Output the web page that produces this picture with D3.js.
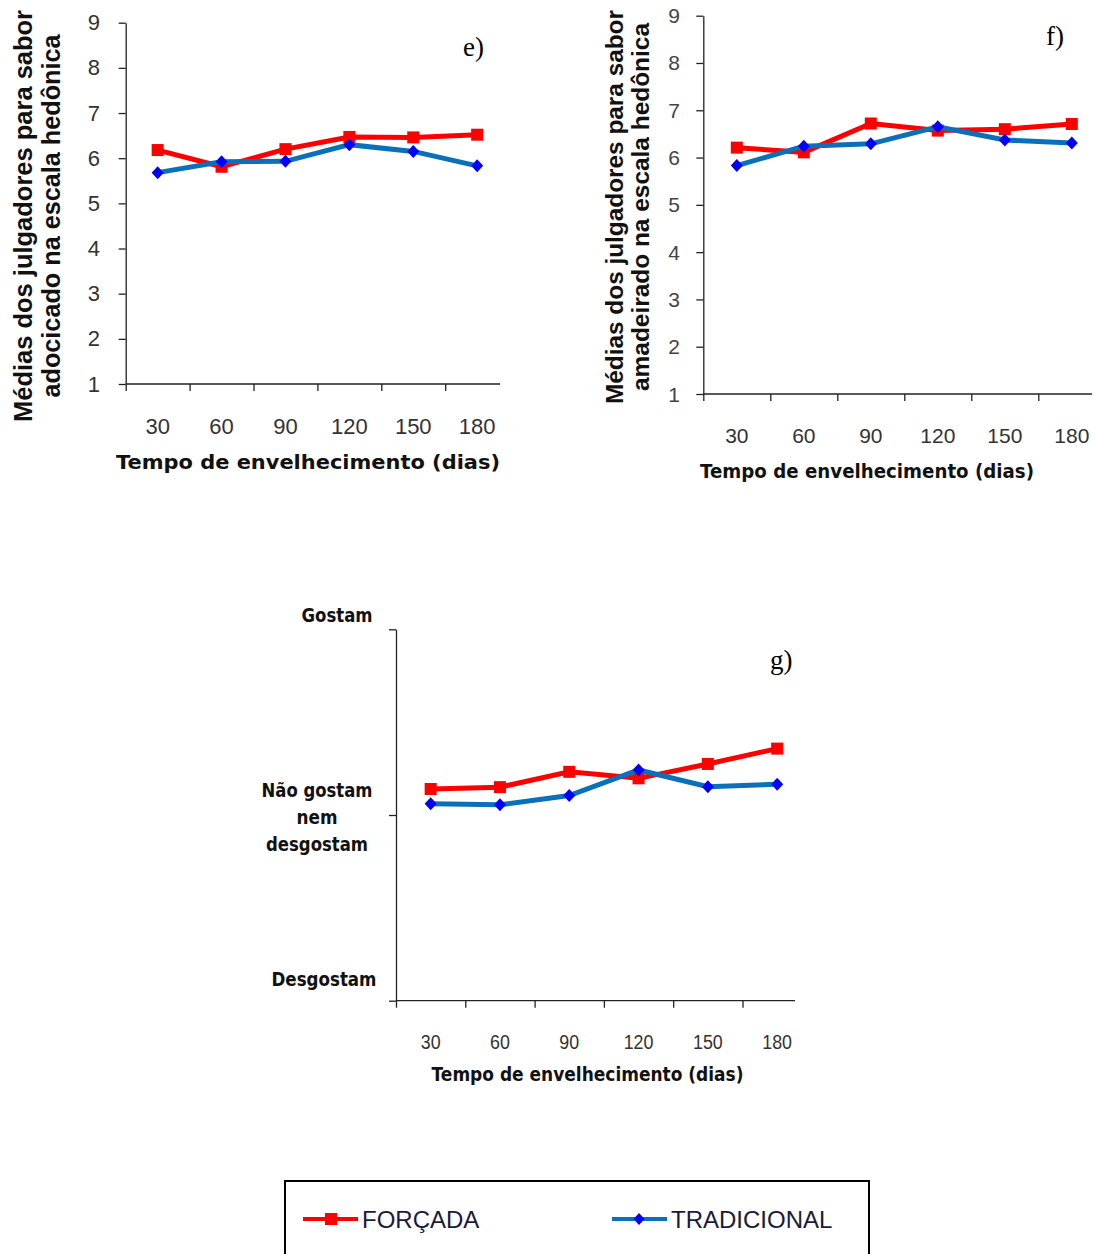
<!DOCTYPE html>
<html>
<head>
<meta charset="utf-8">
<script src="https://cdn.jsdelivr.net/npm/d3@7"></script>
<style>
  body { margin: 0; background: #fff; }
  svg { display: block; }
</style>
</head>
<body>
<div id="chart"></div>
<script>
// dados
var dias = ["30", "60", "90", "120", "150", "180"];
var yTicks = [1, 2, 3, 4, 5, 6, 7, 8, 9];

// e) sabor adocicado
var forcadaE = [6.18, 5.81, 6.20, 6.47, 6.46, 6.52];
var tradicionalE = [5.68, 5.92, 5.93, 6.30, 6.15, 5.83];
// f) sabor amadeirado
var forcadaF = [6.21, 6.11, 6.72, 6.57, 6.60, 6.71];
var tradicionalF = [5.83, 6.24, 6.29, 6.65, 6.37, 6.31];
// g) aceitação
var forcadaG = [5.56, 5.60, 5.93, 5.79, 6.10, 6.43];
var tradicionalG = [5.24, 5.22, 5.42, 5.97, 5.61, 5.66];
var gTickValues = [9, 5, 1];

var series = ["FORÇADA", "TRADICIONAL"];
var red = "#ff0000", blueLine = "#0b70b8", blueMark = "#0000ff";

var svg = d3.select('#chart').append('svg')
  .attr('width', 1096)
  .attr('height', 1254);

var sans = "'Liberation Sans', Arial, sans-serif";
var wide = "'DejaVu Sans', Verdana, sans-serif";

function drawPanel(p) {
  var g = svg.append('g');
  var nb = dias.length;
  var x = d3.scaleLinear().domain([0, nb]).range([p.x0, p.x0 + nb * p.bw]);
  var y = d3.scaleLinear().domain([1, 9]).range([p.y1, p.y9]);

  // eixo x: marcas nas bordas das categorias
  var xa = g.append('g')
    .attr('transform', 'translate(0,' + p.y1 + ')')
    .call(d3.axisBottom(x).tickValues(d3.range(nb)).tickFormat('').tickSize(7).tickSizeOuter(0));
  xa.select('.domain').attr('d', 'M' + p.x0 + ',0H' + p.xEnd);
  xa.selectAll('path,line').attr('stroke', '#222').attr('stroke-width', 1.3);

  var ya = g.append('g')
    .attr('transform', 'translate(' + p.x0 + ',0)')
    .call(d3.axisLeft(y).tickValues(p.yTickValues).tickFormat('').tickSize(7).tickSizeOuter(0));
  ya.selectAll('path,line').attr('stroke', '#222').attr('stroke-width', 1.3);

  // rótulos do eixo x
  g.selectAll('.xl').data(dias).enter().append('text')
    .attr('transform', function(d, i) { return 'translate(' + x(i + 0.5) + ',' + p.xLabelY + ') scale(' + p.sx + ',1)'; })
    .attr('text-anchor', 'middle')
    .attr('dominant-baseline', 'central')
    .style('font-family', sans).style('font-size', p.tickFs + 'px').style('fill', '#333')
    .text(function(d) { return d; });

  // título do eixo x
  g.append('text')
    .attr('x', p.titleX).attr('y', p.titleY)
    .attr('text-anchor', 'middle').attr('dominant-baseline', 'central')
    .attr('textLength', p.titleW).attr('lengthAdjust', 'spacingAndGlyphs')
    .style('font-family', wide).style('font-weight', 'bold').style('font-size', '20px').style('fill', '#111')
    .text('Tempo de envelhecimento (dias)');

  // letra do painel
  g.append('text')
    .attr('x', p.letter[0]).attr('y', p.letter[1])
    .style('font-family', "'Liberation Serif', 'Times New Roman', serif").style('font-size', '27px')
    .text(p.letter[2]);

  var line = d3.line()
    .x(function(d, i) { return x(i + 0.5); })
    .y(function(d) { return y(d); });

  // FORÇADA primeiro, TRADICIONAL por cima
  g.append('path').datum(p.forcada)
    .attr('d', line).attr('fill', 'none').attr('stroke', red).attr('stroke-width', 5);
  g.selectAll('.sq').data(p.forcada).enter().append('rect')
    .attr('x', function(d, i) { return x(i + 0.5) - 6; })
    .attr('y', function(d) { return y(d) - 6; })
    .attr('width', 12).attr('height', 12).attr('fill', red);

  g.append('path').datum(p.tradicional)
    .attr('d', line).attr('fill', 'none').attr('stroke', blueLine).attr('stroke-width', 5);
  g.selectAll('.dm').data(p.tradicional).enter().append('path')
    .attr('transform', function(d, i) { return 'translate(' + x(i + 0.5) + ',' + y(d) + ')'; })
    .attr('d', 'M0,-6.5L6,0L0,6.5L-6,0Z').attr('fill', blueMark);

  return { g: g, y: y };
}

// painel e)
var pe = drawPanel({
  x0: 125.7, bw: 63.9, xEnd: 500, y9: 22.7, y1: 384,
  yTickValues: yTicks, xLabelY: 426, tickFs: 22, sx: 1,
  titleX: 308, titleY: 462, titleW: 384,
  letter: [463, 56, 'e)'],
  forcada: forcadaE, tradicional: tradicionalE
});
pe.g.selectAll('.yl').data(yTicks).enter().append('text')
  .attr('x', 100).attr('y', function(d) { return pe.y(d); })
  .attr('text-anchor', 'end').attr('dominant-baseline', 'central')
  .style('font-family', sans).style('font-size', '22px').style('fill', '#333')
  .text(function(d) { return d; });
[["Médias dos julgadores para sabor", 32, 412], ["adocicado na escala hedônica", 60, 363]].forEach(function(t) {
  pe.g.append('text')
    .attr('transform', 'translate(' + t[1] + ',216) rotate(-90)')
    .attr('text-anchor', 'middle')
    .attr('textLength', t[2]).attr('lengthAdjust', 'spacingAndGlyphs')
    .style('font-family', sans).style('font-weight', 'bold').style('font-size', '25px').style('fill', '#111')
    .text(t[0]);
});

// painel f)
var pf = drawPanel({
  x0: 703.3, bw: 67, xEnd: 1092, y9: 15.7, y1: 394,
  yTickValues: yTicks, xLabelY: 435, tickFs: 21, sx: 1,
  titleX: 867, titleY: 471, titleW: 334,
  letter: [1046, 45, 'f)'],
  forcada: forcadaF, tradicional: tradicionalF
});
pf.g.selectAll('.yl').data(yTicks).enter().append('text')
  .attr('x', 680).attr('y', function(d) { return pf.y(d); })
  .attr('text-anchor', 'end').attr('dominant-baseline', 'central')
  .style('font-family', sans).style('font-size', '21px').style('fill', '#444')
  .text(function(d) { return d; });
[["Médias dos julgadores para sabor", 623, 394], ["amadeirado na escala hedônica", 649, 368]].forEach(function(t) {
  pf.g.append('text')
    .attr('transform', 'translate(' + t[1] + ',207) rotate(-90)')
    .attr('text-anchor', 'middle')
    .attr('textLength', t[2]).attr('lengthAdjust', 'spacingAndGlyphs')
    .style('font-family', sans).style('font-weight', 'bold').style('font-size', '24px').style('fill', '#111')
    .text(t[0]);
});

// painel g)
var pg = drawPanel({
  x0: 396, bw: 69.3, xEnd: 795, y9: 629.3, y1: 1000.7,
  yTickValues: gTickValues, xLabelY: 1041, tickFs: 21, sx: 0.85,
  titleX: 587.5, titleY: 1074, titleW: 312,
  letter: [770, 669, 'g)'],
  forcada: forcadaG, tradicional: tradicionalG
});
var gLabels = [
  { v: 9, lines: ["Gostam"], x: 337, dy: -14, w: [71] },
  { v: 5, lines: ["Não gostam", "nem", "desgostam"], x: 317, dy: -25, w: [111, 41, 102] },
  { v: 1, lines: ["Desgostam"], x: 324, dy: -22, w: [105] }
];
gLabels.forEach(function(l) {
  l.lines.forEach(function(s, k) {
    pg.g.append('text')
      .attr('x', l.x).attr('y', pg.y(l.v) + l.dy + k * 27)
      .attr('text-anchor', 'middle').attr('dominant-baseline', 'central')
      .attr('textLength', l.w[k]).attr('lengthAdjust', 'spacingAndGlyphs')
      .style('font-family', wide).style('font-weight', 'bold').style('font-size', '20px').style('fill', '#111')
      .text(s);
  });
});

// legenda
var leg = svg.append('g');
leg.append('rect')
  .attr('x', 285).attr('y', 1181).attr('width', 584).attr('height', 100)
  .attr('fill', 'none').attr('stroke', '#000').attr('stroke-width', 2);
var legX = d3.scaleOrdinal().domain(series).range([303, 612]);
series.forEach(function(s, i) {
  var x0 = legX(s), cy = 1219;
  leg.append('line')
    .attr('x1', x0).attr('x2', x0 + 55).attr('y1', cy).attr('y2', cy)
    .attr('stroke', i === 0 ? red : blueLine).attr('stroke-width', 4);
  if (i === 0) {
    leg.append('rect').attr('x', x0 + 22).attr('y', cy - 6).attr('width', 12).attr('height', 12).attr('fill', red);
  } else {
    leg.append('path').attr('transform', 'translate(' + (x0 + 27) + ',' + cy + ')')
      .attr('d', 'M0,-6L5.5,0L0,6L-5.5,0Z').attr('fill', blueMark);
  }
  leg.append('text')
    .attr('x', x0 + 59).attr('y', cy)
    .attr('dominant-baseline', 'central')
    .style('font-family', sans).style('font-size', '24px').style('fill', '#1a1a3a')
    .text(s);
});
</script>
</body>
</html>
